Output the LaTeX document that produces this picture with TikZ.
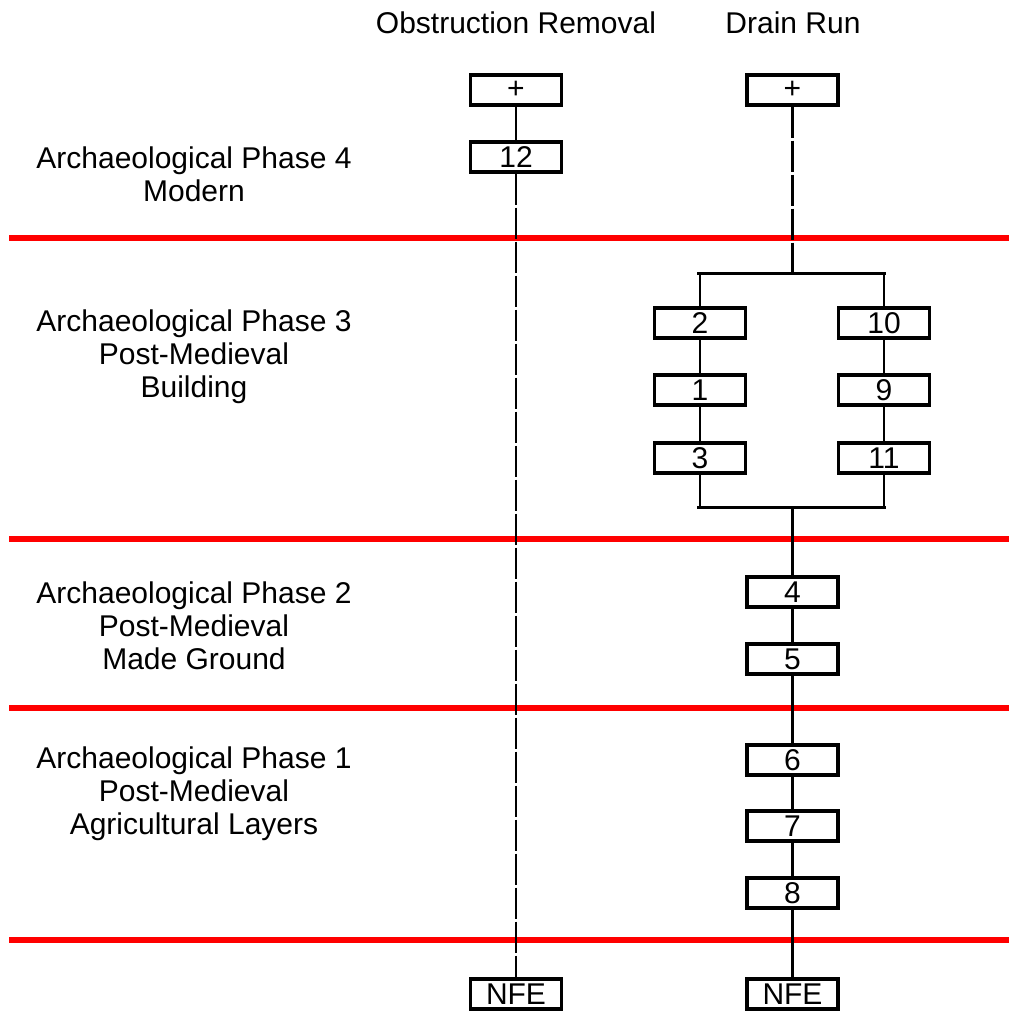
\documentclass[tikz,border=0pt]{standalone}
\usepackage{fontspec}
\setmainfont{Liberation Sans}
\begin{document}
\begin{tikzpicture}[x=1pt,y=-1pt,
  unit/.style={draw, line width=3.2pt, minimum width=91pt, minimum height=30pt, inner sep=0pt, fill=white, font=\fontsize{30}{33}\selectfont},
  lbl/.style={align=center, font=\fontsize{30}{33}\selectfont, inner sep=0pt},
  link/.style={line width=2.6pt},
  dlink/.style={line width=2.6pt, dash pattern=on 31pt off 3pt},
  bar/.style={line width=3pt},
  phase/.style={red, line width=6pt}]
\useasboundingbox (0,0) rectangle (1009,1012);
% phase lines
\foreach \yy in {238,539,708,940} \draw[phase] (9,\yy) -- (1009,\yy);
% titles
\node[lbl] (t1) at (516,23) {Obstruction Removal};
\node[lbl] (t2) at (793,23) {Drain Run};
% phase labels
\node[lbl] (p4) at (194,174) {Archaeological Phase 4\\Modern};
\node[lbl] (p3) at (194,357) {Archaeological Phase 3\\Post-Medieval\\Building};
\node[lbl] (p2) at (194,626) {Archaeological Phase 2\\Post-Medieval\\Made Ground};
\node[lbl] (p1) at (194,794) {Archaeological Phase 1\\Post-Medieval\\Agricultural Layers};
% obstruction removal
\node[unit] (oplus) at (516,90) {+};
\node[unit] (o12) at (516,157) {12};
\node[unit] (onfe) at (516,994) {NFE};
\draw[link] (oplus) -- (o12);
\draw[dlink] (o12.south) -- (onfe.north);
% drain run
\node[unit] (dplus) at (792.5,90) {+};
\coordinate (topc) at (792.5,273);
\coordinate (topl) at (697,273);
\coordinate (topr) at (886,273);
\coordinate (botc) at (792.5,507);
\coordinate (botl) at (697,507);
\coordinate (botr) at (886,507);
\node[unit] (n2) at (700,323) {2};
\node[unit] (n1) at (700,390) {1};
\node[unit] (n3) at (700,458) {3};
\node[unit] (n10) at (884,323) {10};
\node[unit] (n9) at (884,390) {9};
\node[unit] (n11) at (884,458) {11};
\node[unit] (n4) at (792.5,592) {4};
\node[unit] (n5) at (792.5,659) {5};
\node[unit] (n6) at (792.5,760) {6};
\node[unit] (n7) at (792.5,826) {7};
\node[unit] (n8) at (792.5,893) {8};
\node[unit] (dnfe) at (792.5,994) {NFE};
\draw[dlink] (dplus.south) -- (topc);
\draw[bar] (topl) -- (topr);
\draw[bar] (botl) -- (botr);
\draw[link] (n2.north) -- (n2.north |- topl);
\draw[link] (n10.north) -- (n10.north |- topr);
\draw[link] (n2) -- (n1);
\draw[link] (n1) -- (n3);
\draw[link] (n10) -- (n9);
\draw[link] (n9) -- (n11);
\draw[link] (n3.south) -- (n3.south |- botl);
\draw[link] (n11.south) -- (n11.south |- botr);
\draw[link] (botc) -- (n4.north);
\draw[link] (n4) -- (n5);
\draw[link] (n5) -- (n6);
\draw[link] (n6) -- (n7);
\draw[link] (n7) -- (n8);
\draw[link] (n8) -- (dnfe);
\end{tikzpicture}
\end{document}
